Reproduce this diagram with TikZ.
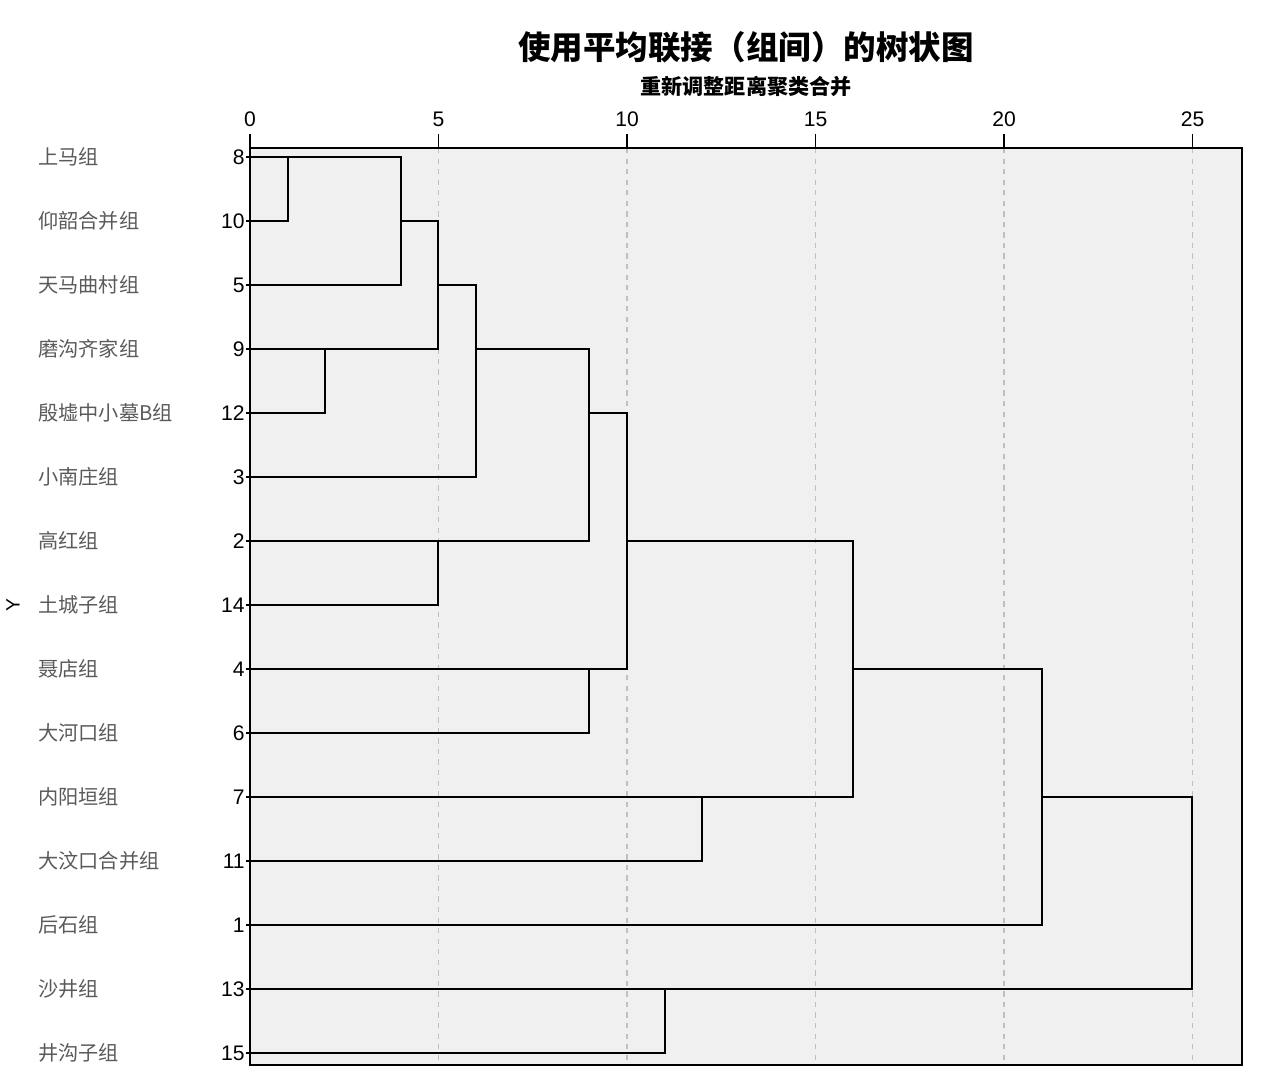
\documentclass[tikz,border=0pt]{standalone}
\usepackage{fontspec}
\setmainfont{Liberation Sans}
\newfontfamily\cjk{Noto Sans CJK SC}
\usetikzlibrary{positioning}
\definecolor{plotbg}{HTML}{F0F0F0}
\definecolor{labelgray}{HTML}{5A5A5A}
\tikzset{
 link/.style={draw=black, line width=1.1pt},
 grid line/.style={draw=black!25, dashed, line width=0.6pt},
 leafnum/.style={anchor=east, inner sep=0pt, font=\fontsize{12}{12}\selectfont},
 grouplabel/.style={anchor=west, inner sep=0pt, text=labelgray, font=\cjk\fontsize{11.5}{12}\selectfont},
 ticklabel/.style={anchor=south, inner sep=0pt, font=\fontsize{12}{12}\selectfont},
}

\begin{document}
\begin{tikzpicture}[x=0.02cm, y=-0.02cm]
 \useasboundingbox (0,0) rectangle (1262,1090);

 %Title
 \node[font=\cjk\bfseries\fontsize{18.5}{20}\selectfont] (title) at (746,47) {使用平均联接（组间）的树状图};
 \node[font=\cjk\bfseries\fontsize{12}{12}\selectfont] (subtitle) at (746,86) {重新调整距离聚类合并};

 %Plot area and distance axis
 \fill[plotbg] (250,148) rectangle (1242,1065);
 \foreach \d in {5,10,...,25}
   \draw[grid line] ({250+37.7*\d},148) -- ({250+37.7*\d},1065);
 \foreach \d in {0,5,...,25}{
   \draw[line width=1pt] ({250+37.7*\d},134) -- ({250+37.7*\d},148);
   \node[ticklabel] (tick\d) at ({250+37.7*\d},127) {\d};
 }
 \draw[line width=1.1pt] (250,134) -- (250,1065) -- (1242,1065) -- (1242,148) -- (250,148);

 %Leaves
 \foreach \n/\lab [count=\r from 0] in {8/上马组, 10/仰韶合并组, 5/天马曲村组, 9/磨沟齐家组,
     12/殷墟中小墓B组, 3/小南庄组, 2/高红组, 14/土城子组, 4/聂店组, 6/大河口组,
     7/内阳垣组, 11/大汶口合并组, 1/后石组, 13/沙井组, 15/井沟子组}{
   \coordinate (l\n) at (250,{157+64*\r});
   \draw[line width=1pt] (246,{157+64*\r}) -- (l\n);
   \node[leafnum] (num\n) at (245,{157+64*\r}) {\n};
   \node[grouplabel] (lab\n) at (38,{157+64*\r}) {\lab};
 }
 \node[rotate=90, font=\fontsize{11}{11}\selectfont] (ytitle) at (13,605) {Y};

 %Dendrogram, x = distance, y = row
 \begin{scope}[shift={(250,157)}, x=0.754cm, y=-1.28cm]
   \coordinate (A) at (1,0);   % 8+10
   \coordinate (B) at (4,1);   % A+5
   \coordinate (C) at (2,3);   % 9+12
   \coordinate (D) at (5,2);   % B+C
   \coordinate (E) at (6,3);   % D+3
   \coordinate (F) at (5,6);   % 2+14
   \coordinate (G) at (9,4);   % E+F
   \coordinate (H) at (9,8);   % 4+6
   \coordinate (I) at (10,6);  % G+H
   \coordinate (J) at (12,10); % 7+11
   \coordinate (K) at (16,8);  % I+J
   \coordinate (L) at (21,10); % K+1
   \coordinate (M) at (11,13); % 13+15
   \coordinate (N) at (25,10); % L+M

   \draw[link] (l8) -| (A) |- (l10);
   \draw[link] (A) -| (B) |- (l5);
   \draw[link] (l9) -| (C) |- (l12);
   \draw[link] (B) -| (D) |- (C);
   \draw[link] (D) -| (E) |- (l3);
   \draw[link] (l2) -| (F) |- (l14);
   \draw[link] (E) -| (G) |- (F);
   \draw[link] (l4) -| (H) |- (l6);
   \draw[link] (G) -| (I) |- (H);
   \draw[link] (l7) -| (J) |- (l11);
   \draw[link] (I) -| (K) |- (J);
   \draw[link] (K) -| (L) |- (l1);
   \draw[link] (l13) -| (M) |- (l15);
   \draw[link] (L) -| (N) |- (M);
 \end{scope}
\end{tikzpicture}
\end{document}
